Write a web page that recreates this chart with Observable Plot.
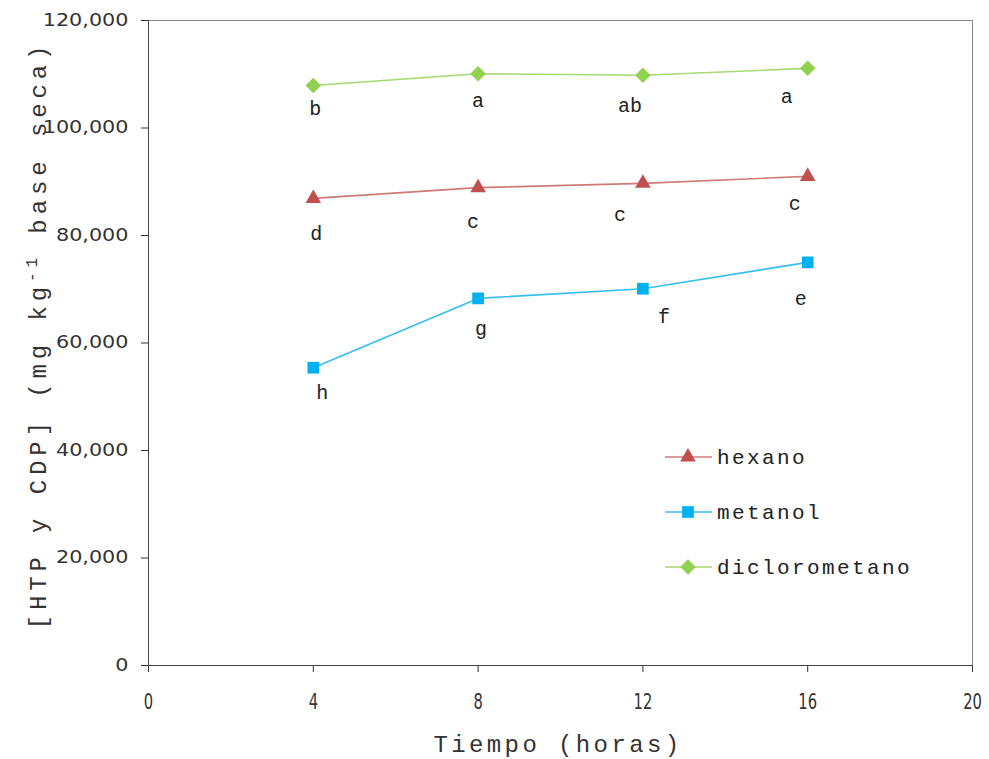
<!DOCTYPE html>
<html>
<head>
<meta charset="utf-8">
<script src="https://cdn.jsdelivr.net/npm/d3@7"></script>
<script src="https://cdn.jsdelivr.net/npm/@observablehq/plot@0.6"></script>
<style>
  html, body { margin: 0; padding: 0; background: #fff; }
  #chart { width: 989px; height: 759px; }
</style>
</head>
<body>
<div id="chart"></div>
<script>
// ---- data ----
const hours = [4, 8, 12, 16];
const seriesNames = ["hexano", "metanol", "diclorometano"];
const hexano = [86900, 88900, 89700, 91000];
const metanol = [55400, 68300, 70100, 75000];
const diclorometano = [107900, 110100, 109800, 111100];
const hexanoLetters = ["d", "c", "c", "c"];
const metanolLetters = ["h", "g", "f", "e"];
const dicloroLetters = ["b", "a", "ab", "a"];
const xTicks = [0, 4, 8, 12, 16, 20];
const yTicks = [0, 20000, 40000, 60000, 80000, 100000, 120000];
const xTitle = "Tiempo (horas)";
const yTitleParts = ["[HTP y CDP] (mg kg", "-1", " base seca)"];

// ---- styling / layout (not data) ----
const colors = {hexano: "#C0504D", metanol: "#00B0F0", diclorometano: "#92D050"};
const lineColors = {hexano: "#D07A78", metanol: "#33BFF2", diclorometano: "#A6D873"};
const symbols = {hexano: "triangle", metanol: "square", diclorometano: "diamond2"};
const symbolR = {hexano: 5.8, metanol: 6.6, diclorometano: 7.0};
const labelOffsets = {
  hexano: [[3, 35], [-5, 34], [-23, 31], [-13, 27]],
  metanol: [[9, 25], [3, 30], [21, 28], [-7, 36]],
  diclorometano: [[2, 23], [0, 27], [-13, 30], [-21, 28]]
};
const mono = "'Liberation Mono', 'DejaVu Sans Mono', monospace";
const sans = "'DejaVu Sans', Verdana, sans-serif";

const valuesBy = {hexano, metanol, diclorometano};
const lettersBy = {hexano: hexanoLetters, metanol: metanolLetters, diclorometano: dicloroLetters};

const rows = seriesNames.flatMap(s => hours.map((h, i) => ({
  series: s, hour: h, value: valuesBy[s][i], letter: lettersBy[s][i], idx: i
})));

const marks = [
  Plot.frame({stroke: "#8a8a8a", strokeWidth: 1}),
  Plot.axisX({ticks: xTicks, tickSize: 7, tickPadding: 22, fontSize: 21, fontFamily: sans, fill: "#333", stroke: "#333", label: null}),
  Plot.axisY({ticks: yTicks, tickFormat: d3.format(","), tickSize: 7, tickPadding: 13, fontSize: 17, fontFamily: sans, fill: "#333", stroke: "#333", label: null}),
  Plot.ruleX([0], {stroke: "#444"}),
  Plot.ruleY([0], {stroke: "#444"})
];
for (const s of seriesNames) {
  const data = rows.filter(d => d.series === s);
  marks.push(Plot.line(data, {x: "hour", y: "value", stroke: lineColors[s], strokeWidth: 1.6}));
  marks.push(Plot.dot(data, {x: "hour", y: "value", symbol: () => symbols[s], r: symbolR[s], fill: colors[s], stroke: "none"}));
  data.forEach((d, i) => {
    const [dx, dy] = labelOffsets[s][i];
    marks.push(Plot.text([d], {x: "hour", y: "value", text: "letter", dx, dy, fontSize: 20, fontFamily: mono, fill: "#222", lineAnchor: "middle"}));
  });
}

const chart = Plot.plot({
  width: 989, height: 759,
  marginLeft: 148, marginRight: 17, marginTop: 20, marginBottom: 94,
  style: {background: "#fff", overflow: "visible"},
  x: {domain: [0, 20]},
  y: {domain: [0, 120000]},
  marks
});
document.getElementById("chart").appendChild(chart);

const svg = d3.select(chart);
// stretch y tick labels slightly wider (original uses a wide face)
svg.selectAll('g[aria-label="y-axis tick label"] text').each(function () {
  const w = this.getComputedTextLength();
  this.setAttribute("textLength", w * 1.22);
  this.setAttribute("lengthAdjust", "spacingAndGlyphs");
});
// condensed x tick labels
svg.selectAll('g[aria-label="x-axis tick label"] text').each(function () {
  const w = this.getComputedTextLength();
  this.setAttribute("textLength", w * 0.7);
  this.setAttribute("lengthAdjust", "spacingAndGlyphs");
});

// axis titles
svg.append("text")
  .attr("x", 558).attr("y", 752)
  .attr("text-anchor", "middle")
  .attr("font-family", mono).attr("font-size", 24)
  .attr("letter-spacing", 3.4)
  .attr("fill", "#333")
  .text(xTitle);

const yt = svg.append("text")
  .attr("transform", "translate(46,335) rotate(-90)")
  .attr("text-anchor", "middle")
  .attr("font-family", mono).attr("font-size", 24)
  .attr("letter-spacing", 4.9)
  .attr("fill", "#333");
yt.append("tspan").text(yTitleParts[0]);
yt.append("tspan").attr("font-size", 16).attr("dy", -9).text(yTitleParts[1]);
yt.append("tspan").attr("dy", 9).text(yTitleParts[2]);

// legend
const legendY = [457, 512, 567];
const lg = svg.append("g").attr("aria-label", "legend");
seriesNames.forEach((s, i) => {
  const g = lg.append("g").attr("transform", `translate(665,${legendY[i]})`);
  g.append("line").attr("x1", 0).attr("x2", 47).attr("y1", 0).attr("y2", 0)
    .attr("stroke", lineColors[s]).attr("stroke-width", 1.6);
  const sym = {triangle: d3.symbolTriangle, square: d3.symbolSquare, diamond2: d3.symbolDiamond2}[symbols[s]];
  g.append("path").attr("transform", "translate(23,0)")
    .attr("d", d3.symbol(sym, Math.PI * symbolR[s] * symbolR[s])())
    .attr("fill", colors[s]);
  g.append("text").attr("x", 52).attr("y", 0).attr("dy", "0.32em")
    .attr("text-anchor", "start")
    .attr("font-family", mono).attr("font-size", 21).attr("letter-spacing", 2.4)
    .attr("fill", "#222").text(s);
});
</script>
</body>
</html>
